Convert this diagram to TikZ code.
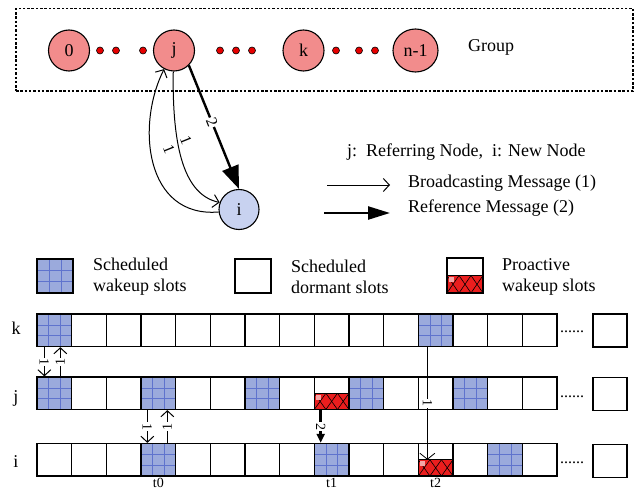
\documentclass[tikz,border=0pt]{standalone}
\usepackage{fontspec}
\setmainfont{Liberation Serif}
\usetikzlibrary{arrows.meta,calc,shapes.geometric}
\definecolor{pinkc}{RGB}{242,140,140}
\definecolor{dotred}{RGB}{230,0,0}
\definecolor{wakefill}{RGB}{155,170,220}
\definecolor{wakegrid}{RGB}{95,115,205}
\definecolor{newfill}{RGB}{200,210,240}
\definecolor{prored}{RGB}{235,30,30}
\definecolor{prospot}{RGB}{245,165,165}
\begin{document}
\begin{tikzpicture}[x=1pt,y=-1pt,
  txt/.style={font=\fontsize{18}{21}\selectfont, inner sep=0pt},
  tlbl/.style={font=\fontsize{16}{18}\selectfont, inner sep=0pt},
  member/.style={circle, draw, line width=1.1pt, fill=pinkc, minimum size=41pt, inner sep=0pt, font=\fontsize{18}{21}\selectfont},
  gap/.style={circle, draw, line width=0.6pt, fill=dotred, minimum size=7pt, inner sep=0pt},
  frame/.style={draw, line width=1.1pt, dash pattern=on 2.5pt off 1.8pt, inner sep=0pt},
  slotbox/.style={rectangle, draw, line width=1.3pt, minimum width=34.67pt, minimum height=32.5pt, inner sep=0pt, fill=white},
  wake/.style={slotbox, fill=wakefill, path picture={
     \foreach \f in {0.333,0.667}{
       \draw[wakegrid, line width=0.4pt] ($(path picture bounding box.north west)!\f!(path picture bounding box.north east)$) -- ($(path picture bounding box.south west)!\f!(path picture bounding box.south east)$);
       \draw[wakegrid, line width=0.4pt] ($(path picture bounding box.north west)!\f!(path picture bounding box.south west)$) -- ($(path picture bounding box.north east)!\f!(path picture bounding box.south east)$);
     }}},
  sleep/.style={slotbox},
  pro/.style={slotbox, path picture={
     \fill[prored] (path picture bounding box.west) rectangle (path picture bounding box.south east);
     \begin{scope}
       \clip (path picture bounding box.west) rectangle (path picture bounding box.south east);
       \foreach \k [evaluate=\k as \fa using \k/3, evaluate=\k as \fb using (\k+1)/3] in {-1,0,1,2,3}{
         \draw[black, line width=0.6pt] ($(path picture bounding box.west)!\fa!(path picture bounding box.east)$) -- ($(path picture bounding box.south west)!\fb!(path picture bounding box.south east)$);
         \draw[black, line width=0.6pt] ($(path picture bounding box.west)!\fb!(path picture bounding box.east)$) -- ($(path picture bounding box.south west)!\fa!(path picture bounding box.south east)$);
       }
     \end{scope}
     \fill[prospot] ($(path picture bounding box.west)+(1.5,1.5)$) rectangle +(5,5);
     \draw[line width=1.3pt] (path picture bounding box.west) -- (path picture bounding box.east);
  }},
  bcast/.style={draw, line width=1pt, -{Straight Barb[length=6pt,width=13pt]}},
  refm/.style={draw, line width=2.4pt, -{Triangle[length=23pt,width=17pt]}},
  lbl/.style={font=\fontsize{16}{18}\selectfont, inner sep=1pt},
  lblon/.style={font=\fontsize{14}{16}\selectfont, inner sep=0.6pt, fill=white},
]
\useasboundingbox (0,0) rectangle (644,489);
\fill[white] (0,0) rectangle (644,489);

% ---------- group ----------
\node[frame, minimum width=617pt, minimum height=82.5pt] (grpframe) at (324.5,49.75) {};
\node[member] (n0) at (69,50.5) {0};
\node[member] (j) at (174,50.5) {j};
\node[member] (k) at (303.5,50.5) {k};
\node[member, ellipse, minimum width=45pt, minimum height=43pt] (nl) at (415.5,50.5) {n-1};
\node[gap] (d1) at (100,50.5) {};
\node[gap] (d2) at (116,50.5) {};
\node[gap] (d3) at (143,50.5) {};
\node[gap] (d4) at (220,50.5) {};
\node[gap] (d5) at (236,50.5) {};
\node[gap] (d6) at (252,50.5) {};
\node[gap] (d7) at (336,50.5) {};
\node[gap] (d8) at (359,50.5) {};
\node[gap] (d9) at (375,50.5) {};
\node[txt, anchor=west] (grp) at (468,47) {Group};

% ---------- new node ----------
\node[circle, draw, line width=1.1pt, fill=newfill, minimum size=40pt, inner sep=0pt, font=\fontsize{18}{21}\selectfont] (i) at (239,209.5) {i};

\draw[bcast] (i.187) .. controls (145,218) and (136,125) .. (j.242);
\draw[bcast] (j.268) .. controls (172,150) and (185,195) .. (i.160);
\node[lbl, rotate=-68] (l1a) at (169,149) {1};
\node[lbl, rotate=-68] (l1b) at (186,140) {1};
\draw[refm] (j.-45) -- node[lbl, fill=white, sloped, pos=0.46] {2} (i.north);

% ---------- message legend ----------
\node[txt, anchor=west] (jtxt) at (347,152) {j:\ \ Referring Node,\ \ i: New Node};
\coordinate (b1) at (327,185);
\coordinate (b2) at (390,185);
\draw[bcast] (b1) -- (b2);
\node[txt, anchor=west] (btxt) at (408,183) {Broadcasting Message (1)};
\coordinate (r1) at (324,213);
\coordinate (r2) at (390,213);
\draw[line width=2.4pt, -{Triangle[length=22pt,width=13pt]}] (r1) -- (r2);
\node[txt, anchor=west] (rtxt) at (408,208) {Reference Message (2)};

% ---------- slot legend ----------
\node[wake, minimum width=36pt, minimum height=34pt] (lgwake) at (55,276) {};
\node[txt, anchor=west, align=left] (lgwaket) at (93,277) {Scheduled\\wakeup slots};
\node[sleep, minimum width=36pt, minimum height=34pt] (lgsleep) at (253,276) {};
\node[txt, anchor=west, align=left] (lgsleept) at (291,277) {Scheduled\\dormant slots};
\node[pro, minimum width=36pt, minimum height=35pt] (lgpro) at (465,275.5) {};
\node[txt, anchor=west, align=left] (lgprot) at (502,277) {Proactive\\wakeup slots};

% ---------- slot rows ----------
\foreach \n/\s in {0/wake,1/sleep,2/sleep,3/sleep,4/sleep,5/sleep,6/sleep,7/sleep,8/sleep,9/sleep,10/sleep,11/wake,12/sleep,13/sleep,14/sleep}
  \node[\s] (k\n) at ({37+(\n+0.5)*34.667}, 330.25) {};
\foreach \n/\s in {0/wake,1/sleep,2/sleep,3/wake,4/sleep,5/sleep,6/wake,7/sleep,8/pro,9/wake,10/sleep,11/sleep,12/wake,13/sleep,14/sleep}
  \node[\s] (j\n) at ({37+(\n+0.5)*34.667}, 393.25) {};
\foreach \n/\s in {0/sleep,1/sleep,2/sleep,3/wake,4/sleep,5/sleep,6/sleep,7/sleep,8/wake,9/sleep,10/sleep,11/pro,12/sleep,13/wake,14/sleep}
  \node[\s] (i\n) at ({37+(\n+0.5)*34.667}, 459.75) {};

\node[sleep, minimum width=34pt, minimum height=33pt] (kx) at (610,330.5) {};
\node[sleep, minimum width=34pt, minimum height=33pt] (jx) at (610,394) {};
\node[sleep, minimum width=34pt, minimum height=33pt] (ix) at (610,461) {};
\node[tlbl, anchor=base] (kdots) at (572,332.5) {......};
\node[tlbl, anchor=base] (jdots) at (572,397.5) {......};
\node[tlbl, anchor=base] (idots) at (572,463.5) {......};

\node[txt, anchor=base] (lk) at (16,334) {k};
\node[txt, anchor=base] (lj) at (16,402) {j};
\node[txt, anchor=base] (li) at (16,467) {i};

\node[tlbl, anchor=base, font=\fontsize{14}{16}\selectfont] (t0) at ($(i3.south)+(0,10.5)$) {t0};
\node[tlbl, anchor=base, font=\fontsize{14}{16}\selectfont] (t1) at ($(i8.south)+(0,10.5)$) {t1};
\node[tlbl, anchor=base, font=\fontsize{14}{16}\selectfont] (t2) at ($(i11.south)+(0,10.5)$) {t2};

% ---------- slot messages ----------
\draw[bcast] ([xshift=8pt]k0.south west) -- node[lblon, sloped] {1} ([xshift=8pt]j0.north west);
\draw[bcast] ([xshift=24pt]j0.north west) -- node[lblon, sloped] {1} ([xshift=24pt]k0.south west);
\draw[bcast] ([xshift=7pt]j3.south west) -- node[lblon, sloped] {1} ([xshift=7pt]i3.north west);
\draw[bcast] ([xshift=27pt]i3.north west) -- node[lblon, sloped] {1} ([xshift=27pt]j3.south west);
\draw[line width=2.4pt, -{Triangle[length=9pt,width=8pt]}] ([xshift=7pt]j8.south west) -- node[lblon, sloped] {2} ([xshift=7pt]i8.north west);
\draw[line width=0.8pt, -{Straight Barb[length=6pt,width=15pt]}] ([xshift=9.7pt]k11.south west) -- node[lblon, sloped] {1} ([xshift=9.7pt]i11.west);
\end{tikzpicture}
\end{document}
